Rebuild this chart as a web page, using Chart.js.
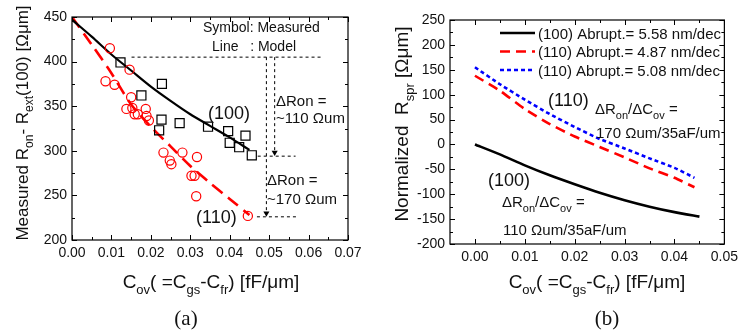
<!DOCTYPE html>
<html>
<head>
<meta charset="utf-8">
<script src="https://cdn.jsdelivr.net/npm/chart.js@4.4.1/dist/chart.umd.min.js"></script>
<style>
    html, body { margin: 0; padding: 0; background: #fff; }
    canvas { position: absolute; top: 0; }
    #chartA { left: 0; }
    #chartB { left: 380px; }
</style>
</head>
<body>
<canvas id="chartA" width="380" height="331"></canvas>
<canvas id="chartB" width="363" height="331"></canvas>
<script>
// ---- (a) measured points ----
const sq100X = [0.0123, 0.0176, 0.0221, 0.0227, 0.0228, 0.0273, 0.0345, 0.0396, 0.0400, 0.0424, 0.0440, 0.0456]
const sq100Y = [399, 362, 323, 335, 375, 331, 327, 322, 309, 304, 317, 295]
const ci110X = [0.0085, 0.0096, 0.0108, 0.0138, 0.0146, 0.0150, 0.0153, 0.0159, 0.0167, 0.0187, 0.0189, 0.0195,
                0.0232, 0.0248, 0.0252, 0.0280, 0.0303, 0.0311, 0.0315, 0.0317, 0.0446]
const ci110Y = [378, 415, 374, 347, 391, 360, 348, 341, 341, 347, 339, 334,
                298, 289, 285, 298, 272, 272, 249, 293, 227]

// ---- (a) model lines ----
const modelX = [0, 0.005, 0.01, 0.015, 0.02, 0.025, 0.03, 0.035, 0.04, 0.045]
const model100 = [447, 428, 408, 390, 372, 356, 341, 328, 315, 301]
const model110 = [450, 419, 387, 352, 327, 305, 283, 264, 246, 228]

// ---- (a) delta guides (dotted) ----
const guideTopY = 405
const guide100Y = 294
const guide110Y = 226

// ---- (b) normalized Rspr ----
const rsprX100 = [0, 0.005, 0.01, 0.015, 0.02, 0.025, 0.03, 0.035, 0.04, 0.045]
const rspr100 = [0, -20, -42, -62, -80, -97, -112, -125, -136, -145]
const rsprX110 = [0, 0.005, 0.01, 0.015, 0.02, 0.025, 0.03, 0.035, 0.04, 0.044]
const rspr110a = [138, 108, 71, 41, 16, -5, -26, -48, -67, -86]
const rspr110b = [155, 121, 90, 61, 35, 11, -8, -28, -47, -67]
const legendLabels = ['(100) Abrupt.= 5.58 nm/dec', '(110) Abrupt.= 4.87 nm/dec', '(110) Abrupt.= 5.08 nm/dec']

// ---- ticks ----
const aXTicks = [0, 0.01, 0.02, 0.03, 0.04, 0.05, 0.06, 0.07]
const aYTicks = [200, 250, 300, 350, 400, 450]
const bXTicks = [0, 0.01, 0.02, 0.03, 0.04, 0.05]
const bYTicks = [-200, -150, -100, -50, 0, 50, 100, 150, 200, 250]

const FONT = '"Liberation Sans", Arial, sans-serif'
const SERIF = '"Liberation Serif", "Times New Roman", serif'

const pts = (xs, ys) => xs.map((x, i) => ({ x: x, y: ys[i] }))

// text with subscripts: parts = [[text, isSub], ...]
function drawRich(ctx, parts, x, y, size, align, family) {
    const fam = family || FONT
    const sub = Math.round(size * 0.7)
    const ws = parts.map(p => {
        ctx.font = (p[1] ? sub : size) + 'px ' + fam
        return ctx.measureText(p[0]).width
    })
    const total = ws.reduce((a, b) => a + b, 0)
    let cx = align === 'center' ? x - total / 2 : x
    parts.forEach((p, i) => {
        ctx.font = (p[1] ? sub : size) + 'px ' + fam
        ctx.fillText(p[0], cx, p[1] ? y + size * 0.3 : y)
        cx += ws[i]
    })
}

const makeTexts = (items) => ({
    id: 'texts',
    afterDraw(chart) {
        const ctx = chart.ctx
        ctx.save()
        ctx.fillStyle = '#111'
        ctx.textAlign = 'left'
        ctx.textBaseline = 'alphabetic'
        for (const t of items) {
            if (t.rotate) {
                ctx.save()
                ctx.translate(t.x, t.y)
                ctx.rotate(-Math.PI / 2)
                drawRich(ctx, t.parts, 0, 0, t.size, 'center')
                ctx.restore()
            } else {
                drawRich(ctx, t.parts, t.x, t.y, t.size, t.align, t.serif ? SERIF : FONT)
            }
        }
        ctx.restore()
    }
})

// frame with inward major/minor ticks on all four sides
const boxTicks = {
    id: 'boxTicks',
    afterDatasetsDraw(chart) {
        const { ctx, chartArea: a, scales } = chart
        ctx.save()
        ctx.strokeStyle = '#000'
        ctx.lineWidth = 1.2
        ctx.strokeRect(a.left, a.top, a.right - a.left, a.bottom - a.top)
        ctx.lineWidth = 1
        ctx.beginPath()
        const majMin = (scale) => {
            const v = scale.ticks.map(t => t.value)
            const out = []
            v.forEach((val, i) => {
                out.push([val, 5])
                if (i < v.length - 1) out.push([(val + v[i + 1]) / 2, 3])
            })
            return out
        }
        for (const [v, len] of majMin(scales.x)) {
            const px = Math.round(scales.x.getPixelForValue(v)) + 0.5
            ctx.moveTo(px, a.bottom); ctx.lineTo(px, a.bottom - len)
            ctx.moveTo(px, a.top); ctx.lineTo(px, a.top + len)
        }
        for (const [v, len] of majMin(scales.y)) {
            const py = Math.round(scales.y.getPixelForValue(v)) + 0.5
            ctx.moveTo(a.left, py); ctx.lineTo(a.left + len, py)
            ctx.moveTo(a.right, py); ctx.lineTo(a.right - len, py)
        }
        ctx.stroke()
        ctx.restore()
    }
}

const legendB = {
    id: 'legendB',
    afterDraw(chart) {
        const ctx = chart.ctx
        ctx.save()
        chart.data.datasets.forEach((ds, i) => {
            const y = 33 + i * 18.5
            ctx.strokeStyle = ds.borderColor
            ctx.lineWidth = ds.borderWidth
            ctx.setLineDash(ds.borderDash || [])
            ctx.beginPath()
            ctx.moveTo(120, y); ctx.lineTo(155, y)
            ctx.stroke()
            ctx.setLineDash([])
            ctx.fillStyle = '#111'
            ctx.font = '15px ' + FONT
            ctx.fillText(ds.label, 158, y + 5.5)
        })
        ctx.restore()
    }
}

const axis = (min, max, tickVals, digits, fit) => ({
    type: 'linear',
    min: min,
    max: max,
    afterBuildTicks: s => { s.ticks = tickVals.map(v => ({ value: v })) },
    afterFit: fit,
    ticks: {
        callback: v => digits ? v.toFixed(digits) : String(v),
        font: { size: 14, family: FONT },
        color: '#111',
        padding: 5,
        autoSkip: false,
        maxRotation: 0
    },
    grid: { display: false, drawTicks: false },
    border: { display: false }
})

// ---------- chart (a) ----------
const guide = (data, arrow) => ({
    data: data,
    showLine: true,
    borderColor: '#000',
    borderWidth: 1,
    borderDash: [3, 3],
    pointRadius: arrow ? [0, 3.5] : 0,
    pointStyle: 'triangle',
    pointRotation: 180,
    pointBackgroundColor: '#000',
    pointBorderColor: '#000',
    pointBorderWidth: 0
})

new Chart(document.getElementById('chartA'), {
    type: 'scatter',
    data: {
        datasets: [
            { label: '(100) measured', data: pts(sq100X, sq100Y), pointStyle: 'rect', pointRadius: 6.4,
              borderColor: '#000', borderWidth: 1.2, backgroundColor: 'rgba(0,0,0,0)' },
            { label: '(110) measured', data: pts(ci110X, ci110Y), pointStyle: 'circle', pointRadius: 4.6,
              borderColor: '#ff0000', borderWidth: 1.2, backgroundColor: 'rgba(0,0,0,0)' },
            { label: '(100) model', data: pts(modelX, model100), showLine: true, pointRadius: 0,
              borderColor: '#000', borderWidth: 2.2, tension: 0.3 },
            { label: '(110) model', data: pts(modelX, model110), showLine: true, pointRadius: 0,
              borderColor: '#ff0000', borderWidth: 2.6, borderDash: [13, 7], tension: 0.3 },
            guide([{ x: 0.0151, y: guideTopY }, { x: 0.0637, y: guideTopY }]),
            guide([{ x: 0.0471, y: guide100Y }, { x: 0.0567, y: guide100Y }]),
            guide([{ x: 0.0469, y: guide110Y }, { x: 0.0574, y: guide110Y }]),
            guide([{ x: 0.0514, y: guideTopY }, { x: 0.0514, y: guide100Y + 4 }], true),
            guide([{ x: 0.0493, y: guideTopY }, { x: 0.0493, y: guide110Y + 4 }], true)
        ]
    },
    options: {
        responsive: false,
        animation: false,
        events: [],
        layout: { padding: { left: 0, top: 17, right: 32, bottom: 0 } },
        plugins: { legend: { display: false }, tooltip: { enabled: false } },
        scales: {
            x: axis(0, 0.07, aXTicks, 2, s => { s.height = 91 }),
            y: axis(200, 450, aYTicks, 0, s => { s.width = 72 })
        }
    },
    plugins: [boxTicks, makeTexts([
        { x: 28, y: 123, rotate: true, size: 17, parts: [['Measured R'], ['on', 1], ['- R'], ['ext', 1], ['(100) [\u03A9\u03BCm]']] },
        { x: 211, y: 288, align: 'center', size: 19, parts: [['C'], ['ov', 1], ['( =C'], ['gs', 1], ['-C'], ['fr', 1], [') [fF/\u03BCm]']] },
        { x: 186, y: 325, align: 'center', size: 21, serif: true, parts: [['(a)']] },
        { x: 203, y: 32, size: 14, parts: [['Symbol: Measured']] },
        { x: 212, y: 51, size: 14, parts: [['Line   : Model']] },
        { x: 276, y: 106, size: 15, parts: [['\u0394Ron =']] },
        { x: 276, y: 123, size: 15, parts: [['~110 \u03A9um']] },
        { x: 267, y: 185, size: 15, parts: [['\u0394Ron =']] },
        { x: 267, y: 204, size: 15, parts: [['~170 \u03A9um']] },
        { x: 208, y: 119, size: 18, parts: [['(100)']] },
        { x: 196, y: 223, size: 18, parts: [['(110)']] }
    ])]
})

// ---------- chart (b) ----------
new Chart(document.getElementById('chartB'), {
    type: 'scatter',
    data: {
        datasets: [
            { label: legendLabels[0], data: pts(rsprX100, rspr100), showLine: true, pointRadius: 0,
              borderColor: '#000', borderWidth: 2.6, tension: 0.2 },
            { label: legendLabels[1], data: pts(rsprX110, rspr110a), showLine: true, pointRadius: 0,
              borderColor: '#ff0000', borderWidth: 2.6, borderDash: [10, 6], tension: 0.2 },
            { label: legendLabels[2], data: pts(rsprX110, rspr110b), showLine: true, pointRadius: 0,
              borderColor: '#0000ff', borderWidth: 2.6, borderDash: [4, 3], tension: 0.2 }
        ]
    },
    options: {
        responsive: false,
        animation: false,
        events: [],
        layout: { padding: { left: 0, top: 20, right: 15, bottom: 0 } },
        plugins: { legend: { display: false }, tooltip: { enabled: false } },
        scales: {
            x: axis(-0.005, 0.05, bXTicks, 2, s => { s.height = 87 }),
            y: axis(-200, 250, bYTicks, 0, s => { s.width = 70 })
        }
    },
    plugins: [boxTicks, legendB, makeTexts([
        { x: 28, y: 124, rotate: true, size: 19, parts: [['Normalized  R'], ['spr', 1], [' [\u03A9\u03BCm]']] },
        { x: 217, y: 288, align: 'center', size: 19, parts: [['C'], ['ov', 1], ['( =C'], ['gs', 1], ['-C'], ['fr', 1], [') [fF/\u03BCm]']] },
        { x: 227, y: 325, align: 'center', size: 21, serif: true, parts: [['(b)']] },
        { x: 168, y: 106, size: 18, parts: [['(110)']] },
        { x: 215, y: 114, size: 15, parts: [['\u0394R'], ['on', 1], ['/\u0394C'], ['ov', 1], [' =']] },
        { x: 216, y: 138, size: 15, parts: [['170 \u03A9um/35aF/um']] },
        { x: 108, y: 186, size: 18, parts: [['(100)']] },
        { x: 122, y: 207, size: 15, parts: [['\u0394R'], ['on', 1], ['/\u0394C'], ['ov', 1], [' =']] },
        { x: 123, y: 235, size: 15, parts: [['110 \u03A9um/35aF/um']] }
    ])]
})
</script>
</body>
</html>
